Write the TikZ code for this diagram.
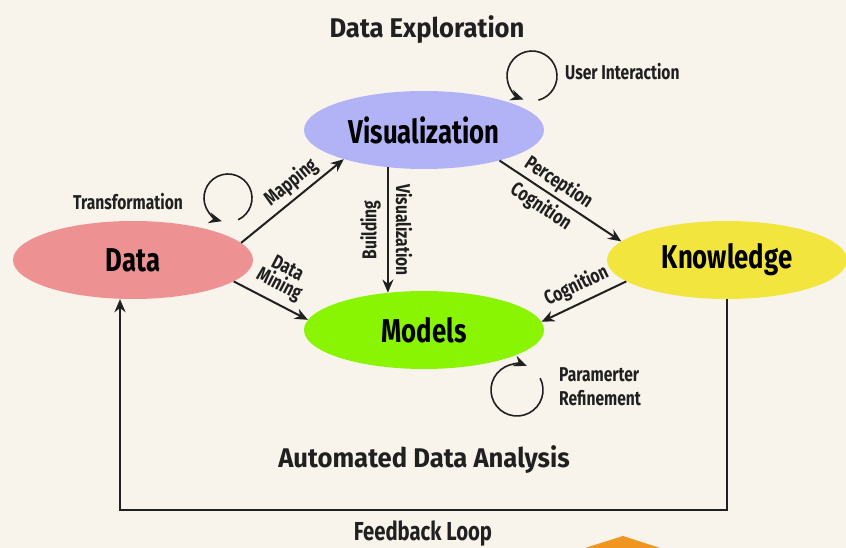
\documentclass[tikz,border=0pt]{standalone}
\usepackage{fontspec}
\setmainfont{Fira Sans}[FakeStretch=0.78]
\newfontfamily\titlefont{Fira Sans}[FakeStretch=0.95]
\usepackage{tikz}
\newcommand{\ellwidth}{240pt}
\newcommand{\ellheight}{78pt}
\definecolor{bgBeige}{RGB}{248,243,235}
\definecolor{dataPink}{RGB}{237,145,147}
\definecolor{visBlue}{RGB}{177,179,246}
\definecolor{knowYellow}{RGB}{242,230,62}
\definecolor{modelGreen}{RGB}{138,245,2}
\definecolor{boxOrange}{RGB}{240,150,32}
\definecolor{inkGrey}{RGB}{32,32,32}
\usetikzlibrary{arrows.meta,calc,positioning,shapes.geometric}
\tikzset{
  >={Stealth[length=13pt,width=11pt]},
  x=1pt,y=-1pt,
  font=\bfseries\fontsize{20}{24}\selectfont,
  blob/.style={ellipse,minimum width=\ellwidth,minimum height=\ellheight,inner sep=0,font=\bfseries\fontsize{33}{36}\selectfont},
  line/.style={draw,->,line width=2pt,color=inkGrey},
  selfarc/.style={draw,->,line width=1.6pt,color=inkGrey},
  tag/.style={text=inkGrey,inner sep=4pt,align=left},
  title/.style={text=inkGrey,font=\titlefont\bfseries\fontsize{27}{30}\selectfont},
}

\begin{document}
\begin{tikzpicture}
      \fill [bgBeige] (0,0) rectangle (846,548);
      \useasboundingbox (0,0) rectangle (846,548);
      \fill [boxOrange] (585,548) -- (623,536) -- (660,548) -- cycle;
      % the four stages
      \node (data) [blob,fill=dataPink] at (133,260) {Data};
      \node (vis) [blob,fill=visBlue] at (424,130) {Visualization};
      \node (know) [blob,fill=knowYellow] at (727,260) {Knowledge};
      \node (models) [blob,fill=modelGreen] at (424,330) {Models};
      % titles
      \node (explore) [title] at (427,30) {Data Exploration};
      \node (auto) [title] at (424,460) {Automated Data Analysis};
      \node (feedback) [title,font=\bfseries\fontsize{26}{28}\selectfont] at (423,534) {Feedback Loop};
      % arrows between stages
      \path [line] (data.9) -- (vis.200) node[sloped,above,tag,pos=0.58]{Mapping};
      \path [line] (data.-12) -- (models.175) node[pos=0.5,sloped,above,tag,inner sep=7pt,align=center]{Data\\[-6pt]Mining};
      \path [line] (vis.226) -- (models.134)
        node[midway,sloped,above,tag,inner sep=7pt]{Visualization}
        node[midway,rotate=90,above,tag,inner sep=6pt]{Building};
      \path [line] (vis.-22) -- (know.170)
        node[pos=0.42,sloped,above,tag,inner sep=3pt]{Perception}
        node[pos=0.41,sloped,below,tag]{Cognition};
      \path [line] (know.192) -- (models.4) node[midway,sloped,above,tag,inner sep=6pt]{Cognition};
      % feedback loop
      \coordinate (fbR) at (know.south |- 0,510);
      \coordinate (fbL) at (120,510);
      \path [line] (know.south) -- (fbR) -- (fbL) -- (data.south -| fbL);
      % self loops
      \coordinate (trC) at (228,198);
      \coordinate (uiC) at (532,76);
      \coordinate (prC) at (517,390);
      \path [selfarc] (trC) ++(65:24) arc[start angle=65,end angle=-255,radius=24];
      \path [selfarc] (uiC) ++(75:25) arc[start angle=75,end angle=-250,radius=25];
      \path [selfarc] (prC) ++(-27:26) arc[start angle=-27,end angle=292,radius=26];
      \node (trTag) [tag] at (128,202) {Transformation};
      \node (uiTag) [tag,anchor=west] at ($(uiC)+(29,-4)$) {User Interaction};
      \node (prTag) [tag,anchor=west] at ($(prC)+(38,-3)$) {Paramerter\\Refinement};
\end{tikzpicture}
\end{document}
